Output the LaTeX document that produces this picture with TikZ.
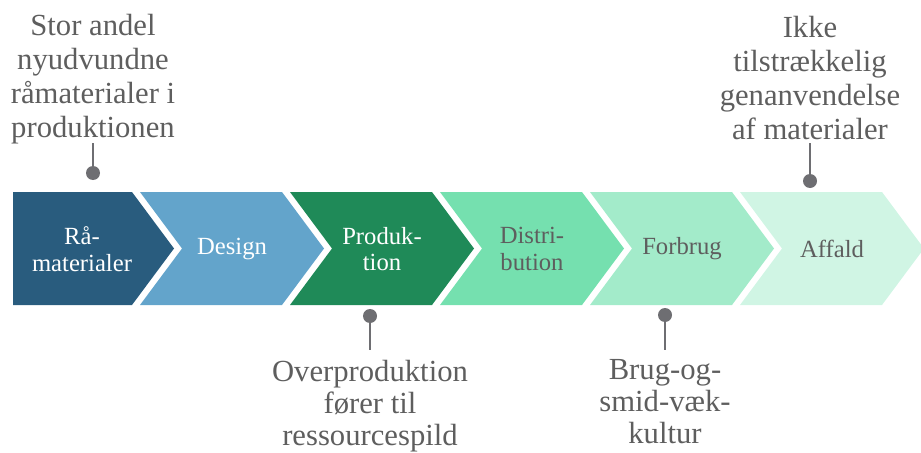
\documentclass[tikz,border=0pt]{standalone}
\usepackage{fontspec}
\setmainfont{Liberation Serif}
\definecolor{raa}{HTML}{295C7E}
\definecolor{dsg}{HTML}{63A4CB}
\definecolor{prd}{HTML}{1F8A58}
\definecolor{dst}{HTML}{75E0AF}
\definecolor{frb}{HTML}{A3EBCA}
\definecolor{afd}{HTML}{D0F5E4}
\definecolor{pin}{HTML}{6E6E72}
\definecolor{txt}{HTML}{5E5E5E}
\tikzset{
  steplabel/.style={align=center,font=\fontsize{18.5}{20}\selectfont,inner sep=0pt},
  note/.style={align=center,font=\fontsize{23}{25.5}\selectfont,text=txt,inner sep=0pt,anchor=north},
  lownote/.style={note,font=\fontsize{23}{24}\selectfont},
  pinline/.style={draw=pin,line width=2.2pt},
  pindot/.style={circle,fill=pin,inner sep=0pt,minimum size=10.5pt},
}

\begin{document}
\begin{tikzpicture}[x=0.75pt,y=-0.75pt]
                    \clip (0,0) rectangle (921,453);
                    \foreach \nm/\col/\tc/\txt [count=\i from 0] in {raa/raa/white/{Rå-\\materialer},dsg/dsg/white/Design,prd/prd/white/{Produk-\\tion},dst/dst/txt/{Distri-\\bution},frb/frb/txt/Forbrug,afd/afd/txt/Affald}
                    {
                        \pgfmathsetmacro\cx{82+150*\i}
                        \pgfmathsetmacro\lx{ifthenelse(\i==0,13,\cx-92)}
                        \pgfmathsetmacro\nx{ifthenelse(\i==0,13,\cx-50)}
                        \fill[\col] (\lx,192) -- (\cx+50,192) -- (\cx+92,248.5) -- (\cx+50,305) -- (\lx,305) -- (\nx,248.5) -- cycle;
                        \node[steplabel,text=\tc] (\nm) at (\cx,249) {\txt};
                    }
                    \node[note] (noteraa) at (93,14) {Stor andel\\nyudvundne\\råmaterialer i\\produktionen};
                    \node[note] (noteafd) at (810,16) {Ikke\\tilstrækkelig\\genanvendelse\\af materialer};
                    \node[lownote] (noteprd) at (370,359.5) {Overproduktion\\fører til\\ressourcespild};
                    \node[lownote] (notefrb) at (665,359.5) {Brug-og-\\smid-væk-\\kultur};
                    \coordinate (tickraa) at (93,143);
                    \coordinate (tickafd) at (810,143);
                    \coordinate (tickprd) at (370,350);
                    \coordinate (tickfrb) at (665,350);
                    \node[pindot] (pinraa) at (93,173) {};
                    \node[pindot] (pinafd) at (810,181) {};
                    \node[pindot] (pinprd) at (370,316) {};
                    \node[pindot] (pinfrb) at (665,315) {};
                    \draw[pinline] (pinraa) -- (tickraa);
                    \draw[pinline] (pinafd) -- (tickafd);
                    \draw[pinline] (pinprd) -- (tickprd);
                    \draw[pinline] (pinfrb) -- (tickfrb);
                \end{tikzpicture}
\end{document}
